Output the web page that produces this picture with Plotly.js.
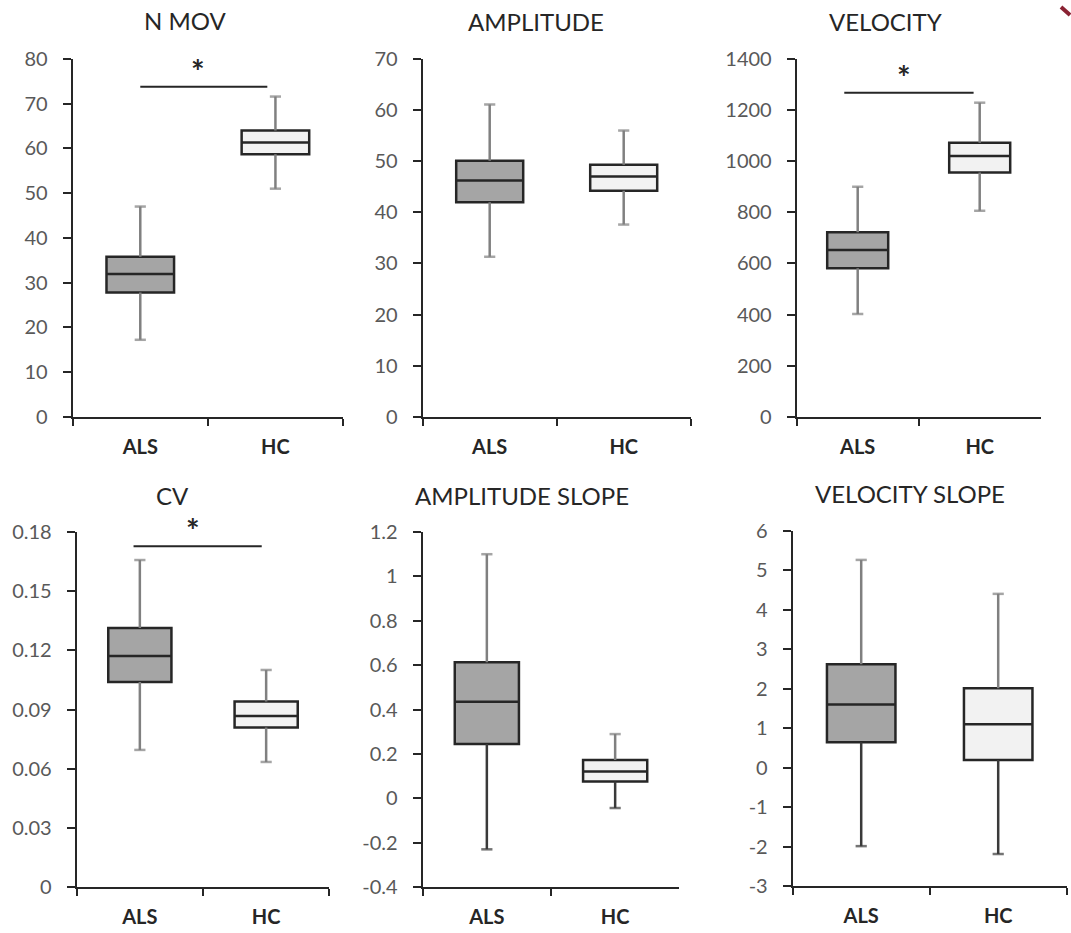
<!DOCTYPE html>
<html>
<head>
<meta charset="utf-8">
<script src="https://cdn.plot.ly/plotly-3.0.1.min.js"></script>
<style>
  html, body { margin: 0; padding: 0; background: #ffffff; }
  #chart { width: 1071px; height: 933px; }
</style>
</head>
<body>
<div id="chart"></div>
<script>
// Groups compared in every panel
const groups = ['ALS', 'HC'];
const panelTitles = ['N MOV', 'AMPLITUDE', 'VELOCITY', 'CV', 'AMPLITUDE SLOPE', 'VELOCITY SLOPE'];

// Box summaries per panel, each entry is [ALS, HC]
const lowerWhisker = [[17.2, 51.0], [31.3, 37.6], [402, 806], [0.0696, 0.0635], [-0.229, -0.043], [-1.99, -2.19]];
const q1Values     = [[27.8, 58.7], [41.95, 44.2], [581, 956], [0.1040, 0.0809], [0.245, 0.076], [0.64, 0.19]];
const medianValues = [[31.9, 61.3], [46.2, 47.0], [652, 1020], [0.1172, 0.0868], [0.436, 0.121], [1.60, 1.10]];
const q3Values     = [[35.8, 64.0], [50.1, 49.3], [722, 1072], [0.1314, 0.0941], [0.613, 0.173], [2.62, 2.01]];
const upperWhisker = [[47.0, 71.6], [61.1, 56.0], [900, 1229], [0.1658, 0.1101], [1.10, 0.290], [5.26, 4.40]];

// Y-axis tick values per panel
const yTicks = [
  [0, 10, 20, 30, 40, 50, 60, 70, 80],
  [0, 10, 20, 30, 40, 50, 60, 70],
  [0, 200, 400, 600, 800, 1000, 1200, 1400],
  [0, 0.03, 0.06, 0.09, 0.12, 0.15, 0.18],
  [-0.4, -0.2, 0, 0.2, 0.4, 0.6, 0.8, 1, 1.2],
  [-3, -2, -1, 0, 1, 2, 3, 4, 5, 6]
];

// Significance markers: panel index, bar level, bar span (category index units)
const sigPanels = [0, 2, 3];
const sigLevel = [73.8, 1268, 0.1728];
const sigSpan = [[0.0, 0.94], [-0.11, 0.95], [-0.05, 0.965]];
const sigLabel = '*';

// ---- styling ----
const FONT = 'Lato, "Open Sans", sans-serif';
const INK = '#262626';
const TICK_GREY = '#595959';
const fills = ['#a5a5a5', '#f2f2f2'];
const W = 1071, H = 933;

// plot-area frames in pixels: [left, right, top, bottom]
const frames = [
  [72.7, 343.0, 59.0, 416.7],
  [422.7, 690.7, 59.0, 416.7],
  [796.7, 1040.7, 59.0, 416.7],
  [76.7, 329.3, 532.0, 887.3],
  [422.7, 679.3, 532.0, 887.3],
  [792.7, 1066.7, 530.7, 886.0]
];
// title centres in pixels
const titlePos = [[185, 21], [536, 22], [885, 22], [172, 495], [522, 495], [910, 493]];
// whisker colours per panel: [upper, lower]
const whiskerColors = [
  ['#808080', '#808080'], ['#808080', '#808080'], ['#808080', '#808080'],
  ['#808080', '#808080'], ['#808080', '#3a3a3a'], ['#808080', '#3a3a3a']
];

const fmt = v => String(Math.round(v * 1000) / 1000);

const traces = [];
const layout = {
  width: W, height: H,
  margin: { l: 0, r: 0, t: 0, b: 0 },
  paper_bgcolor: '#ffffff',
  plot_bgcolor: '#ffffff',
  showlegend: false,
  boxmode: 'overlay',
  annotations: [],
  shapes: []
};

for (let p = 0; p < 6; p++) {
  const sfx = p === 0 ? '' : String(p + 1);
  const xa = 'x' + sfx, ya = 'y' + sfx;
  const [l, r, t, b] = frames[p];

  layout['xaxis' + sfx] = {
    domain: [l / W, r / W],
    anchor: ya,
    type: 'category',
    categoryorder: 'array',
    categoryarray: groups,
    range: [-0.5, 1.5],
    tickson: 'boundaries',
    ticks: 'outside', ticklen: 7, tickwidth: 2, tickcolor: INK,
    showline: true, linecolor: INK, linewidth: 2,
    showgrid: false, zeroline: false,
    tickfont: { family: FONT, size: 20, color: INK, weight: 'bold' },
    ticklabelstandoff: 11,
    fixedrange: true
  };
  const yt = yTicks[p];
  layout['yaxis' + sfx] = {
    domain: [1 - b / H, 1 - t / H],
    anchor: xa,
    range: [yt[0], yt[yt.length - 1]],
    tickmode: 'array',
    tickvals: yt,
    ticktext: yt.map(fmt),
    ticks: 'outside', ticklen: 8, tickwidth: 2, tickcolor: INK,
    showline: true, linecolor: INK, linewidth: 2,
    showgrid: false, zeroline: false,
    tickfont: { family: FONT, size: 20, color: TICK_GREY },
    ticklabelstandoff: 11,
    fixedrange: true
  };

  layout.annotations.push({
    xref: 'paper', yref: 'paper',
    x: titlePos[p][0] / W, y: 1 - titlePos[p][1] / H,
    xanchor: 'center', yanchor: 'middle',
    text: panelTitles[p], showarrow: false,
    font: { family: FONT, size: 24, color: INK }
  });

  for (let g = 0; g < groups.length; g++) {
    // box body (whiskers drawn separately so they can carry their own colour)
    traces.push({
      type: 'box', xaxis: xa, yaxis: ya,
      x: [groups[g]],
      q1: [q1Values[p][g]], median: [medianValues[p][g]], q3: [q3Values[p][g]],
      lowerfence: [q1Values[p][g]], upperfence: [q3Values[p][g]],
      width: 0.5, whiskerwidth: 0,
      fillcolor: fills[g],
      line: { color: INK, width: 2.5 },
      boxpoints: false, hoverinfo: 'skip'
    });
    // upper and lower whiskers with end caps
    const ends = [[q3Values[p][g], upperWhisker[p][g], whiskerColors[p][0]],
                  [q1Values[p][g], lowerWhisker[p][g], whiskerColors[p][1]]];
    for (const [from, to, col] of ends) {
      traces.push({
        type: 'scatter', mode: 'lines+markers', xaxis: xa, yaxis: ya,
        x: [groups[g], groups[g]], y: [from, to],
        line: { color: col, width: 2.5 },
        marker: { symbol: 'line-ew', size: [0, 8], color: col, line: { color: col, width: 2.5 } },
        cliponaxis: false, hoverinfo: 'skip'
      });
    }
  }
}

// significance bars with asterisks
sigPanels.forEach((p, i) => {
  const sfx = p === 0 ? '' : String(p + 1);
  layout.shapes.push({
    type: 'line', xref: 'x' + sfx, yref: 'y' + sfx,
    x0: sigSpan[i][0], x1: sigSpan[i][1], y0: sigLevel[i], y1: sigLevel[i],
    line: { color: INK, width: 2 }
  });
  layout.annotations.push({
    xref: 'x' + sfx, yref: 'y' + sfx,
    x: (sigSpan[i][0] + sigSpan[i][1]) / 2 - 0.04, y: sigLevel[i],
    xanchor: 'center', yanchor: 'bottom', yshift: -6,
    text: sigLabel, showarrow: false,
    font: { family: FONT, size: 32, color: INK, weight: 'bold' }
  });
});

// small dark-red corner mark at the top right
layout.shapes.push({
  type: 'line', xref: 'paper', yref: 'paper',
  x0: 1061 / W, y0: 1 - 7 / H, x1: 1070 / W, y1: 1 - 15 / H,
  line: { color: '#8a2233', width: 4 }
});

Plotly.newPlot('chart', traces, layout, { staticPlot: true, displayModeBar: false });
</script>
</body>
</html>
